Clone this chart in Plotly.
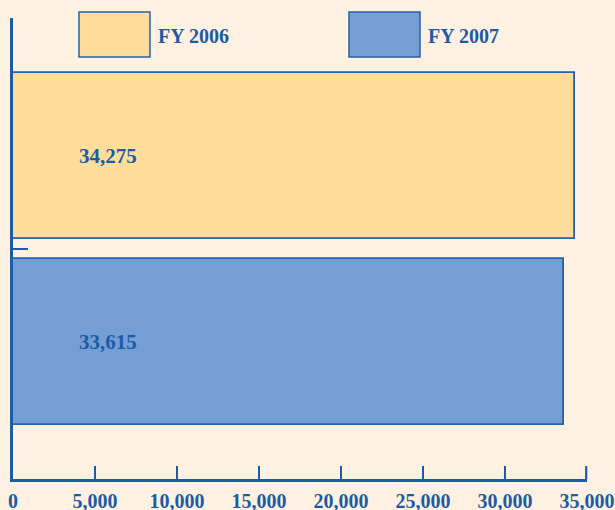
import plotly.graph_objects as go

# ---- data ----
categories = ["FY 2006", "FY 2007"]
values = [34275, 33615]
value_labels = ["34,275", "33,615"]
fill_colors = ["#FEDD9B", "#749ED4"]
x_tick_values = [0, 5000, 10000, 15000, 20000, 25000, 30000, 35000]
x_tick_labels = ["0", "5,000", "10,000", "15,000", "20,000", "25,000", "30,000", "35,000"]

BG = "#FEF1E1"
EDGE = "#2762A8"
INK = "#1D5BA5"
FONT = "Liberation Serif"

W, H = 615, 510
ML, MR, MT, MB = 13, 28, 18, 31
PW, PH = W - ML - MR, H - MT - MB
X_MAX = x_tick_values[-1]


def px_x(x):
    return (x - ML) / PW


def px_y(y):
    return (H - MB - y) / PH


fig = go.Figure()
for i, (cat, val, col) in enumerate(zip(categories, values, fill_colors)):
    fig.add_trace(go.Bar(
        x=[val], y=[i], orientation="h", width=0.895,
        marker=dict(color=col, line=dict(color=EDGE, width=1.8)),
        name=cat, showlegend=False, hoverinfo="skip",
    ))
    fig.add_annotation(
        x=0, y=i, xref="x", yref="y", text=value_labels[i],
        showarrow=False, xanchor="left", yanchor="middle", xshift=64,
        font=dict(family=FONT, size=21, color=INK, weight="bold"),
    )

# legend built from the series names and colours
legend_boxes = [(79, 150), (349, 420)]
for (x0, x1), cat, col in zip(legend_boxes, categories, fill_colors):
    fig.add_shape(type="rect", xref="paper", yref="paper",
                  x0=px_x(x0), x1=px_x(x1), y0=px_y(57), y1=px_y(12),
                  fillcolor=col, line=dict(color=EDGE, width=1.5), layer="above")
    fig.add_annotation(x=px_x(x1 + 6), y=px_y(36), xref="paper", yref="paper",
                       text=cat, showarrow=False, xanchor="left", yanchor="middle",
                       font=dict(family=FONT, size=20, color=INK, weight="bold"))

# closing tick at the end of the value axis (plotly drops inside ticks at the edge)
end_tick = x_tick_values[-1] / X_MAX - 0.8 / PW
fig.add_shape(type="line", xref="paper", yref="paper",
              x0=end_tick, x1=end_tick, y0=0, y1=13 / PH,
              line=dict(color=INK, width=2.2), layer="above")

fig.update_layout(
    width=W, height=H,
    margin=dict(l=ML, r=MR, t=MT, b=MB, pad=0, autoexpand=False),
    paper_bgcolor=BG, plot_bgcolor=BG,
    bargap=0,
    xaxis=dict(
        range=[0, X_MAX], tickvals=x_tick_values, ticktext=x_tick_labels,
        showgrid=False, zeroline=False, automargin=False,
        showline=True, linecolor=INK, linewidth=2.5,
        ticks="inside", ticklen=13, tickwidth=2, tickcolor=INK,
        tickfont=dict(family=FONT, size=20, color=INK, weight="bold"),
        ticklabelstandoff=2,
        fixedrange=True,
    ),
    yaxis=dict(
        range=[1.741, -0.744], tickvals=[0.5], ticktext=[""],
        showgrid=False, zeroline=False, automargin=False,
        showline=True, linecolor=INK, linewidth=2.5,
        ticks="inside", ticklen=15, tickwidth=2, tickcolor=INK,
        fixedrange=True,
    ),
    showlegend=False,
)

fig.write_html(
    "out.html",
    config={"displayModeBar": False},
    post_script="document.body.style.margin='0';document.body.style.background='%s';" % BG,
)
